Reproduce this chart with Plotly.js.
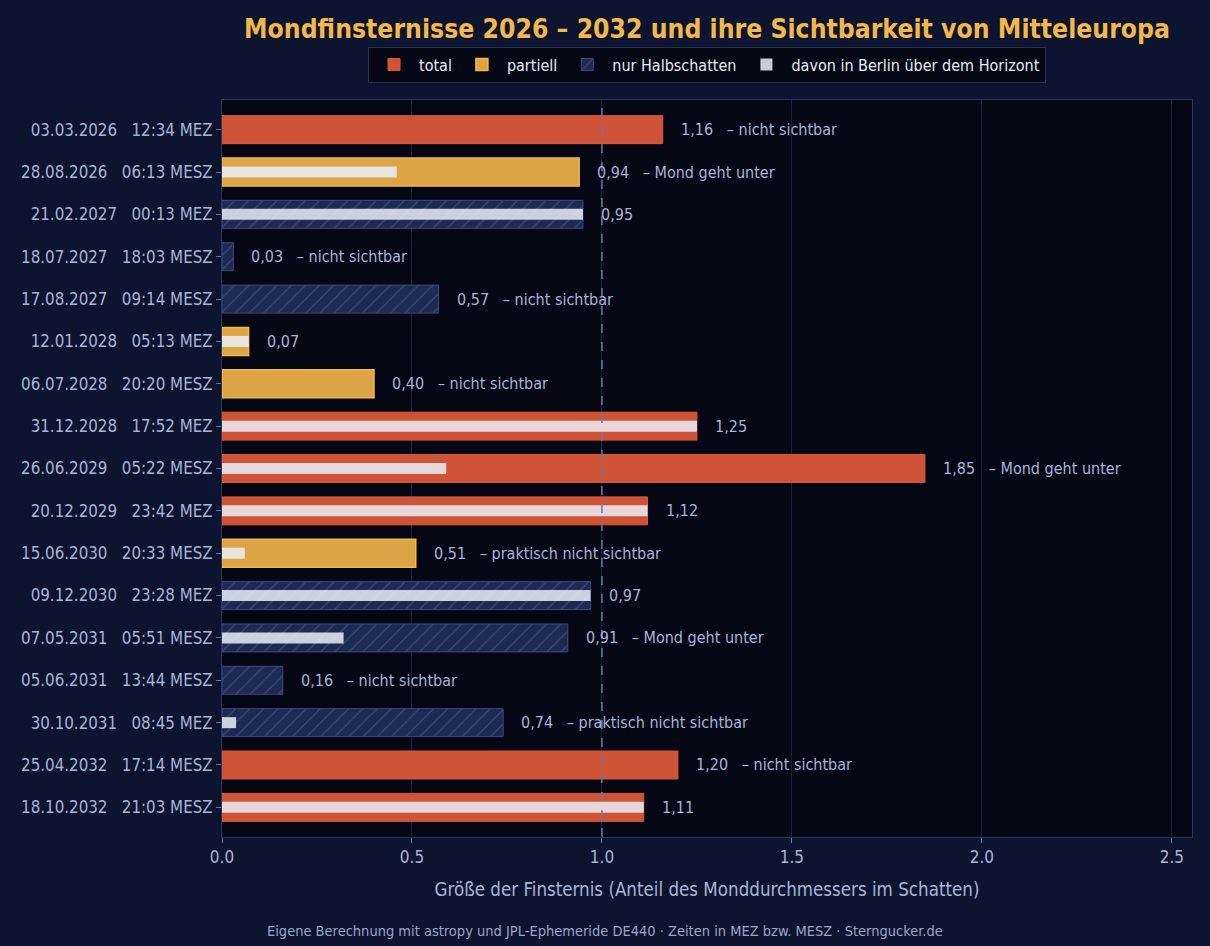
<!DOCTYPE html>
<html>
<head>
<meta charset="utf-8">
<script src="https://cdn.plot.ly/plotly-3.0.1.min.js"></script>
<style>html,body{margin:0;padding:0;background:#0c1430;}#chart{width:1210px;height:946px;}</style>
</head>
<body>
<div id="chart"></div>
<script>
const dates = ["03.03.2026","28.08.2026","21.02.2027","18.07.2027","17.08.2027","12.01.2028","06.07.2028","31.12.2028","26.06.2029","20.12.2029","15.06.2030","09.12.2030","07.05.2031","05.06.2031","30.10.2031","25.04.2032","18.10.2032"];
const times = ["12:34 MEZ","06:13 MESZ","00:13 MEZ","18:03 MESZ","09:14 MESZ","05:13 MEZ","20:20 MESZ","17:52 MEZ","05:22 MESZ","23:42 MEZ","20:33 MESZ","23:28 MEZ","05:51 MESZ","13:44 MESZ","08:45 MEZ","17:14 MESZ","21:03 MESZ"];
const types = ["total","partiell","halb","halb","halb","partiell","partiell","total","total","total","partiell","halb","halb","halb","halb","total","total"];
const magnitude = [1.16,0.94,0.95,0.03,0.57,0.07,0.40,1.25,1.85,1.12,0.51,0.97,0.91,0.16,0.74,1.20,1.11];
const visibleBerlin = [0,0.46,0.95,0,0,0.07,0,1.25,0.59,1.12,0.06,0.97,0.32,0,0.037,0,1.11];
const notes = ["nicht sichtbar","Mond geht unter","","nicht sichtbar","nicht sichtbar","","nicht sichtbar","","Mond geht unter","","praktisch nicht sichtbar","","Mond geht unter","nicht sichtbar","praktisch nicht sichtbar","nicht sichtbar",""];

const NB = "\u00a0";
const labels = dates.map((d,i) => d + NB+NB+NB + times[i]);
const FONT = "DejaVu Sans Condensed, DejaVu Sans, sans-serif";

function subset(type){
  const ys=[], xs=[];
  types.forEach((t,i)=>{ if(t===type){ ys.push(labels[i]); xs.push(magnitude[i]); } });
  return {ys, xs};
}
const tot = subset("total"), par = subset("partiell"), hal = subset("halb");
const visY=[], visX=[];
visibleBerlin.forEach((v,i)=>{ if(v>0){ visY.push(labels[i]); visX.push(v); } });

const traces = [
  {type:"bar", orientation:"h", name:"total", y:tot.ys, x:tot.xs, width:0.66,
   marker:{color:"#cf5336", line:{color:"#d9583a", width:1}}, hoverinfo:"x+y"},
  {type:"bar", orientation:"h", name:"partiell", y:par.ys, x:par.xs, width:0.66,
   marker:{color:"#dca444", line:{color:"#f2b84b", width:1.5}}, hoverinfo:"x+y"},
  {type:"bar", orientation:"h", name:"nur Halbschatten", y:hal.ys, x:hal.xs, width:0.66,
   marker:{color:"#1d2a52", line:{color:"#3a4a82", width:1},
           pattern:{shape:"/", fgcolor:"#3a4a7e", bgcolor:"#1d2a52", size:10, solidity:0.12}}, hoverinfo:"x+y"},
  {type:"bar", orientation:"h", name:"davon in Berlin über dem Horizont", y:visY, x:visX, width:0.26,
   marker:{color:"rgba(235,238,248,0.85)", line:{width:0}}, hoverinfo:"x+y"}
];

const annotations = labels.map((lab,i)=>({
  x: magnitude[i], y: lab, xref:"x", yref:"y",
  text: magnitude[i].toFixed(2).replace(".",",") + (notes[i] ? NB+NB+NB+"– "+notes[i] : ""),
  showarrow:false, xanchor:"left", yanchor:"middle", xshift:16,
  font:{family:FONT, size:16, color:"#a8b4d8"}
}));
annotations.push({
  x:0.395, y:-0.1275, xref:"paper", yref:"paper", xanchor:"center", yanchor:"middle",
  text:"Eigene Berechnung mit astropy und JPL-Ephemeride DE440 · Zeiten in MEZ bzw. MESZ · Sterngucker.de",
  showarrow:false, font:{family:FONT, size:14.5, color:"#9aa5c8"}
});

const layout = {
  width:1210, height:946,
  paper_bgcolor:"#0c1430", plot_bgcolor:"#050814",
  margin:{l:222, r:18, t:100, b:109},
  font:{family:FONT, color:"#a8b4d8"},
  barmode:"overlay",
  title:{text:"<b>Mondfinsternisse 2026 – 2032 und ihre Sichtbarkeit von Mitteleuropa</b>",
         x:0.5, xref:"paper", xanchor:"center", y:0.97, yref:"container", yanchor:"middle",
         font:{family:FONT, size:26.3, color:"#f2b84b"}},
  legend:{orientation:"h", x:0.5, xanchor:"center", y:1.048, yanchor:"middle",
          bgcolor:"#050814", bordercolor:"#26315c", borderwidth:1, itemwidth:40,
          font:{family:FONT, size:16, color:"#e8ecf8"}, traceorder:"normal"},
  xaxis:{range:[0,2.553], dtick:0.5, tickformat:".1f", showgrid:true, gridcolor:"#1a2246", gridwidth:1,
         zeroline:false, showline:true, mirror:true, linecolor:"#2a3560", linewidth:1,
         ticks:"outside", ticklen:5, tickcolor:"#6a78a8",
         tickfont:{family:FONT, size:17, color:"#a8b4d8"},
         title:{text:"Größe der Finsternis (Anteil des Monddurchmessers im Schatten)", standoff:16,
                font:{family:FONT, size:18.6, color:"#a8b4d8"}}},
  yaxis:{type:"category", categoryorder:"array", categoryarray:labels, range:[16.7,-0.7],
         showgrid:false, zeroline:false, showline:true, mirror:true, linecolor:"#2a3560", linewidth:1,
         ticks:"outside", ticklen:5, tickcolor:"#6a78a8",
         tickfont:{family:FONT, size:16.8, color:"#a8b4d8"}},
  shapes:[{type:"line", xref:"x", yref:"paper", x0:1, x1:1, y0:0, y1:1,
           line:{color:"#6a78a8", width:1.5, dash:"dash"}}],
  annotations:annotations,
  showlegend:true
};

Plotly.newPlot("chart", traces, layout, {displayModeBar:false, staticPlot:true});
</script>
</body>
</html>
